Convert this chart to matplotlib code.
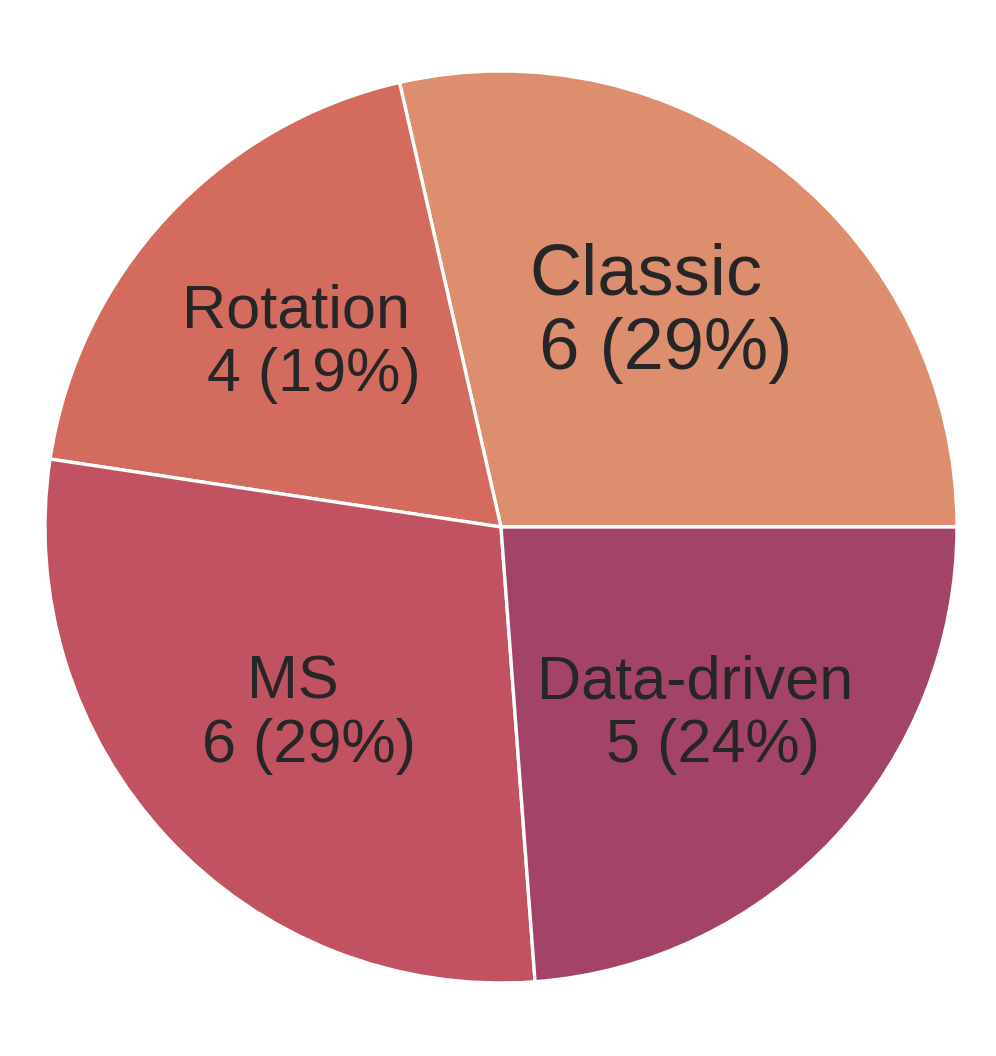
import matplotlib
matplotlib.use("Agg")
import matplotlib.pyplot as plt
import numpy as np

plt.rcParams['font.family'] = ['Liberation Sans', 'DejaVu Sans']

categories = ['Classic', 'Rotation', 'MS', 'Data-driven']
counts = [6, 4, 6, 5]
colors = ['#DC8E6E', '#D36B5F', '#C05262', '#A34367']
label_sizes = [52, 44, 44, 44]
# small nudges (pixels) for the in-slice labels
label_nudge = [(-26, 0), (-4, -3), (-8, -2), (-6, -2)]

total = sum(counts)

fig = plt.figure(figsize=(9.96, 10.56), dpi=100)
r = 456
cx, cy = 501, 1056 - 527
ax = fig.add_axes([(cx - r) / 996, (cy - r) / 1056, 2 * r / 996, 2 * r / 1056])

wedges, _ = ax.pie(counts, colors=colors, startangle=0, counterclock=True,
                   wedgeprops=dict(edgecolor='white', linewidth=2.4))
ax.set_xlim(-1, 1)
ax.set_ylim(-1, 1)

for w, name, n, fs, nd in zip(wedges, categories, counts, label_sizes, label_nudge):
    ang = np.deg2rad((w.theta1 + w.theta2) / 2)
    pct = round(100 * n / total)
    ax.annotate(f"{name}\n  {n} ({pct}%)",
                xy=(0.6 * np.cos(ang), 0.6 * np.sin(ang)),
                xytext=nd, textcoords='offset pixels',
                ha='center', va='center', multialignment='center',
                fontsize=fs, color='#262626', linespacing=1.15)

fig.savefig('out.png', dpi=100)
